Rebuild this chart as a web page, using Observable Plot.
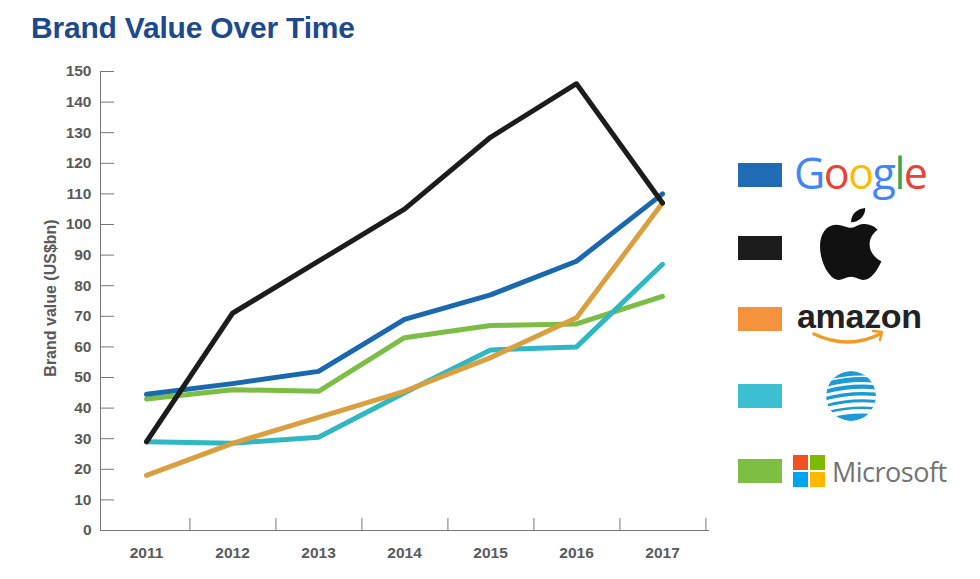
<!DOCTYPE html>
<html>
<head>
<meta charset="utf-8">
<script src="https://cdn.jsdelivr.net/npm/d3@7"></script>
<script src="https://cdn.jsdelivr.net/npm/@observablehq/plot@0.6"></script>
<style>
  html, body { margin: 0; padding: 0; background: #fff; }
  body { width: 980px; height: 579px; overflow: hidden; font-family: "Liberation Sans", Arial, sans-serif; }
  #title { position: absolute; left: 31px; top: 11px; font-size: 30px; font-weight: bold; color: #1d4a8d; letter-spacing: -0.2px; }
  #chart { position: absolute; left: 0; top: 55px; }
  #legend { position: absolute; left: 0; top: 0; }
</style>
</head>
<body>
<div id="title">Brand Value Over Time</div>
<div id="chart"></div>
<svg id="legend" width="980" height="579"></svg>
<script>
const years = ["2011", "2012", "2013", "2014", "2015", "2016", "2017"];
const brands = ["Google", "Apple", "Amazon", "AT&T", "Microsoft"];
const google = [44.5, 48, 52, 69, 77, 88, 110];
const apple = [29, 71, 88, 105, 128.5, 146, 107];
const amazon = [18, 28.5, 37, 45.5, 56.5, 69.5, 107];
const att = [29, 28.5, 30.5, 45, 59, 60, 87];
const microsoft = [43, 46, 45.5, 63, 67, 67.5, 76.5];
const yTicks = [0, 10, 20, 30, 40, 50, 60, 70, 80, 90, 100, 110, 120, 130, 140, 150];
const lineColors = {"Google": "#1a69ae", "Apple": "#1c1c1c", "Amazon": "#daa040", "AT&T": "#2fb7c2", "Microsoft": "#7cbd45"};
const swatchColors = {"Google": "#1f6cb5", "Apple": "#1c1c1c", "Amazon": "#f7923c", "AT&T": "#3cbfd3", "Microsoft": "#7dbf42"};
const drawOrder = ["Microsoft", "AT&T", "Amazon", "Google", "Apple"];

const series = {"Google": google, "Apple": apple, "Amazon": amazon, "AT&T": att, "Microsoft": microsoft};
const rows = [];
for (const b of drawOrder) series[b].forEach((v, i) => rows.push({brand: b, year: years[i], value: v}));

const W = 720, H = 515, mL = 100, mR = 12, mT = 16, mB = 40;
const halfBand = (W - mL - mR) / years.length / 2;
const labelFont = {fill: "#5a5a5a", fontWeight: "bold", fontSize: 15.5, fontFamily: "Liberation Sans, Arial, sans-serif"};

const plot = Plot.plot({
  width: W, height: H,
  marginLeft: mL, marginRight: mR, marginTop: mT, marginBottom: mB,
  style: {fontFamily: "Liberation Sans, Arial, sans-serif", fontSize: "15px", fontWeight: "bold", color: "#5a5a5a"},
  x: {type: "band", domain: years, padding: 0, label: null, axis: null},
  y: {domain: [0, 150], ticks: yTicks, label: null, axis: null},
  color: {domain: brands, range: brands.map(b => lineColors[b])},
  marks: [
    Plot.frame({anchor: "left", stroke: "#777"}),
    Plot.frame({anchor: "bottom", stroke: "#777"}),
    Plot.axisY({ticks: yTicks, tickSize: -14, stroke: "#777", text: null}),
    Plot.text(yTicks, {y: d => d, frameAnchor: "left", textAnchor: "end", lineAnchor: "middle", dx: -9, ...labelFont}),
    Plot.axisX({tickSize: -12, stroke: "#777", text: null, dx: halfBand}),
    Plot.text(years, {x: d => d, frameAnchor: "bottom", lineAnchor: "middle", dy: 23, ...labelFont}),
    Plot.text(["Brand value (US$bn)"], {frameAnchor: "left", textAnchor: "middle", rotate: -90, dx: -50, dy: -3, fill: "#5a5a5a", fontWeight: "bold", fontSize: 16}),
    ...drawOrder.map(b => Plot.line(rows.filter(r => r.brand === b), {x: "year", y: "value", stroke: "brand", strokeWidth: 5, strokeLinejoin: "round"}))
  ]
});
document.getElementById("chart").appendChild(plot);

// Legend with brand marks
const lg = d3.select("#legend");
const swY = [163, 236, 307, 384, 459];
brands.forEach((b, i) => {
  lg.append("rect").attr("x", 738).attr("y", swY[i]).attr("width", 44).attr("height", 24).attr("fill", swatchColors[b]);
});
// Google
const gt = lg.append("text").attr("x", 794).attr("y", 189).attr("font-family", "Open Sans, sans-serif").attr("font-size", 43).attr("letter-spacing", -1.5);
[["G", "#4285F4"], ["o", "#EA4335"], ["o", "#FBBC05"], ["g", "#4285F4"], ["l", "#34A853"], ["e", "#EA4335"]].forEach(([c, col]) => gt.append("tspan").attr("fill", col).text(c));
// Apple
lg.append("g").attr("transform", "translate(820,208) scale(0.62)").call(g => {
  g.append("path").attr("fill", "#111").attr("d", "M50 32 C42 32 36 27 26 27 C10 27 0 42 0 62 C0 88 16 116 30 116 C38 116 42 111 50 111 C58 111 62 116 70 116 C83 116 93 100 99 86 C86 79 80 69 80 59 C80 48 86 40 93 35 C85 27 76 26 70 26 C62 26 57 32 50 32 Z");
  g.append("path").attr("fill", "#111").attr("d", "M50 23 C50 10 60 1 73 0 C73 13 63 23 50 23 Z");
});
// Amazon
lg.append("text").attr("x", 797).attr("y", 328).attr("font-family", "Liberation Sans, Arial, sans-serif").attr("font-weight", "bold").attr("font-size", 34).attr("fill", "#222").attr("letter-spacing", -0.3).text("amazon");
lg.append("path").attr("d", "M814 334 Q848 350 880 334").attr("fill", "none").attr("stroke", "#f29b24").attr("stroke-width", 3.5).attr("stroke-linecap", "round");
lg.append("path").attr("d", "M873 331 L882 332 L880 340").attr("fill", "none").attr("stroke", "#f29b24").attr("stroke-width", 2.5).attr("stroke-linecap", "round").attr("stroke-linejoin", "round");
// AT&T globe
const defs = lg.append("defs");
defs.append("clipPath").attr("id", "globe").append("circle").attr("cx", 851).attr("cy", 396).attr("r", 25);
const gl = lg.append("g").attr("clip-path", "url(#globe)");
gl.append("circle").attr("cx", 851).attr("cy", 396).attr("r", 25).attr("fill", "#1c9ad6");
const stripes = [[379, 1.5], [386, 2.5], [393, 3.2], [400, 3.8], [407, 4.3], [414, 4.5]];
stripes.forEach(([y, w]) => gl.append("path").attr("d", `M820 ${y + 4} Q851 ${y - 6} 884 ${y - 1}`).attr("fill", "none").attr("stroke", "#fff").attr("stroke-width", w));
// Microsoft
[[793, 455, "#F25022"], [810, 455, "#7FBA00"], [793, 472, "#00A4EF"], [810, 472, "#FFB900"]].forEach(([x, y, c]) => lg.append("rect").attr("x", x).attr("y", y).attr("width", 15).attr("height", 15).attr("fill", c));
lg.append("text").attr("x", 832).attr("y", 482).attr("font-family", "Open Sans, sans-serif").attr("font-size", 27).attr("fill", "#737373").attr("letter-spacing", -0.5).text("Microsoft");
</script>
</body>
</html>
